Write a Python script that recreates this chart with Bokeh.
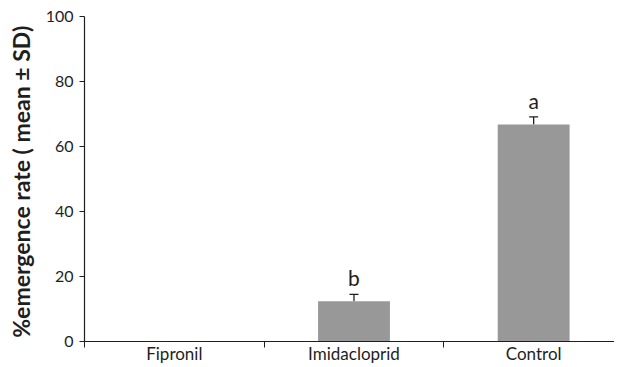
from bokeh.plotting import figure
from bokeh.models import Range1d, FixedTicker, ColumnDataSource, Whisker
from bokeh.core.properties import value
from bokeh.embed import file_html
from bokeh.resources import INLINE

categories = ["Fipronil", "Imidacloprid", "Control"]
means = [0.0, 12.4, 66.8]
sds = [0.0, 2.1, 2.3]
letters = ["", "b", "a"]
y_ticks = [0, 20, 40, 60, 80, 100]

xs = [i + 0.5 for i in range(len(categories))]
src = ColumnDataSource(dict(x=xs, top=means, letters=letters,
                            upper=[m + s for m, s in zip(means, sds)]))
keep = [i for i, s in enumerate(sds) if s > 0]
err_src = ColumnDataSource(dict(x=[xs[i] for i in keep],
                                top=[means[i] for i in keep],
                                upper=[means[i] + sds[i] for i in keep]))

FONT = "Lato"
INK = "#1e1e1e"

p = figure(width=614, height=366, x_range=Range1d(0, 2.95), y_range=Range1d(0, 100),
           output_backend="svg", toolbar_location=None,
           min_border_left=84, min_border_right=0, min_border_top=16, min_border_bottom=20)
p.outline_line_color = None
p.grid.visible = False
p.background_fill_color = "white"

p.vbar(x="x", top="top", width=0.4, bottom=0, source=src,
       fill_color="#989898", line_color=None)

w = Whisker(base="x", lower="top", upper="upper", source=err_src,
            line_color=INK, line_width=1.3, lower_head=None)
w.upper_head.size = 9
w.upper_head.line_color = INK
w.upper_head.line_width = 1.3
p.add_layout(w)

p.text(x="x", y="upper", text="letters", source=src, text_align="center",
       text_baseline="bottom", y_offset=-4, text_font=value(FONT),
       text_font_size="21px", text_color=INK)

# x axis: tick marks at category boundaries, labels at centres
p.xaxis.ticker = FixedTicker(ticks=xs, minor_ticks=[0, 1, 2, 3])
p.xaxis.major_label_overrides = {x: c for x, c in zip(xs, categories)}
p.xaxis.major_label_text_font = FONT
p.xaxis.major_label_text_font_size = "17px"
p.xaxis.major_label_text_color = INK
p.xaxis.major_label_standoff = -5
p.xaxis.major_tick_out = 0
p.xaxis.major_tick_in = 0
p.xaxis.minor_tick_out = 6
p.xaxis.minor_tick_in = 0
p.xaxis.axis_line_color = INK
p.xaxis.minor_tick_line_color = INK
p.xaxis.axis_line_width = 1.2

# y axis
p.yaxis.ticker = FixedTicker(ticks=y_ticks, minor_ticks=[])
p.yaxis.major_tick_out = 5
p.yaxis.major_tick_in = 0
p.yaxis.major_label_standoff = 6
p.yaxis.major_label_text_font = FONT
p.yaxis.major_label_text_font_size = "16px"
p.yaxis.major_label_text_color = INK
p.yaxis.axis_line_color = INK
p.yaxis.axis_line_width = 1.2
p.yaxis.major_tick_line_color = INK
p.yaxis.axis_label = "%emergence rate  ( mean ± SD)"
p.yaxis.axis_label_text_font = FONT
p.yaxis.axis_label_text_font_style = "bold"
p.yaxis.axis_label_text_font_size = "23px"
p.yaxis.axis_label_text_color = INK
p.yaxis.axis_label_standoff = 8

open("out.html", "w").write(file_html(p, INLINE))
